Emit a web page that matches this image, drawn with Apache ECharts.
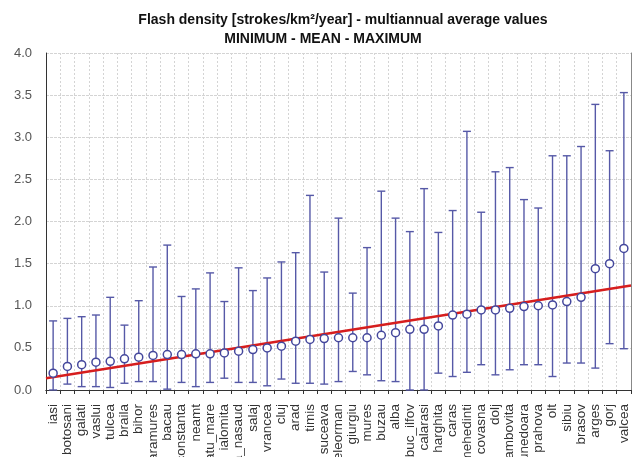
<!DOCTYPE html>
<html><head><meta charset="utf-8">
<script src="https://cdn.jsdelivr.net/npm/echarts@6/dist/echarts.min.js"></script>
<style>html,body{margin:0;padding:0;background:#fff}#c{width:634px;height:457px}</style>
</head><body><div id="c"></div>
<script>
const categories = ['iasi','botosani','galati','vaslui','tulcea','braila','bihor','maramures','bacau','constanta','neamt','satu_mare','ialomita','bistrita_nasaud','salaj','vrancea','cluj','arad','timis','suceava','teleorman','giurgiu','mures','buzau','alba','buc_ilfov','calarasi','harghita','caras','mehedinti','covasna','dolj','dambovita','hunedoara','prahova','olt','sibiu','brasov','arges','gorj','valcea'];
const means = [0.20,0.28,0.30,0.33,0.34,0.37,0.39,0.41,0.42,0.42,0.43,0.43,0.44,0.46,0.48,0.50,0.52,0.58,0.60,0.61,0.62,0.62,0.62,0.65,0.68,0.72,0.72,0.76,0.89,0.90,0.95,0.95,0.97,0.99,1.00,1.01,1.05,1.10,1.44,1.50,1.68];
const maxs = [0.82,0.85,0.87,0.89,1.10,0.77,1.06,1.46,1.72,1.11,1.20,1.39,1.05,1.45,1.18,1.33,1.52,1.63,2.31,1.40,2.04,1.15,1.69,2.36,2.04,1.88,2.39,1.87,2.13,3.07,2.11,2.59,2.64,2.26,2.16,2.78,2.78,2.89,3.39,2.84,3.53];
const mins = [0.00,0.07,0.04,0.04,0.03,0.08,0.10,0.10,0.01,0.09,0.04,0.09,0.14,0.09,0.09,0.05,0.13,0.08,0.08,0.07,0.10,0.22,0.18,0.11,0.10,0.00,0.00,0.20,0.16,0.21,0.30,0.18,0.24,0.30,0.30,0.16,0.32,0.32,0.26,0.55,0.49];
const trendEnds = [0.14, 1.24];
const yTicks = [0, 4, 0.5];

const FONT = 'Arial, "Liberation Sans", sans-serif';
const chart = echarts.init(document.getElementById('c'), null, {renderer: 'canvas'});
const errData = categories.map((c, i) => [i, mins[i], maxs[i]]);
const meanData = categories.map((c, i) => [i, means[i]]);

chart.setOption({
  animation: false,
  backgroundColor: '#fff',
  title: [
    {text: 'Flash density [strokes/km\u00b2/year] - multiannual average values', left: 338, top: 8, textAlign: 'center',
     textStyle: {fontFamily: FONT, fontSize: 14, fontWeight: 'bold', color: '#111'}},
    {text: 'MINIMUM - MEAN - MAXIMUM', left: 318, top: 27, textAlign: 'center',
     textStyle: {fontFamily: FONT, fontSize: 14, fontWeight: 'bold', color: '#111'}}
  ],
  grid: {left: 46, right: 3, top: 53, bottom: 67, containLabel: false, outerBoundsMode: 'none'},
  xAxis: [
    {type: 'category', data: categories, offset: 7, boundaryGap: true,
     axisLine: {show: true, lineStyle: {color: '#333', width: 1}},
     axisTick: {show: true, length: 4, inside: false, alignWithLabel: false, interval: 0, lineStyle: {color: '#333'}},
     axisLabel: {interval: 0, rotate: 90, fontSize: 13.5, fontFamily: FONT, color: '#333', margin: 7, hideOverlap: false},
     splitLine: {show: true, interval: 0, lineStyle: {color: '#d4d4d4', type: [2, 2], width: 1}}},
    {type: 'category', data: categories, position: 'top', boundaryGap: true,
     axisLine: {show: true, lineStyle: {color: '#333', width: 1}},
     axisTick: {show: true, inside: true, length: 4, interval: 0, lineStyle: {color: '#333'}},
     axisLabel: {show: false}, splitLine: {show: false}},
    {type: 'value', min: 0, max: 1, show: false}
  ],
  yAxis: [
    {type: 'value', min: yTicks[0], max: yTicks[1], interval: yTicks[2], offset: 7,
     axisLine: {show: true, lineStyle: {color: '#333'}},
     axisTick: {show: false},
     axisLabel: {formatter: v => v.toFixed(1), fontSize: 13, fontFamily: FONT, color: '#555', margin: 7},
     splitLine: {show: true, lineStyle: {color: '#d4d4d4', type: [3, 1], width: 1}}},
    {type: 'value', min: yTicks[0], max: yTicks[1], interval: yTicks[2], position: 'right',
     axisLine: {show: true, lineStyle: {color: '#888'}}, axisTick: {show: false}, axisLabel: {show: false}, splitLine: {show: false}}
  ],
  series: [
    {type: 'custom', xAxisIndex: 0, yAxisIndex: 0, z: 2, data: errData,
     renderItem: function (params, api) {
       const x = api.value(0);
       const lo = api.coord([x, api.value(1)]);
       const hi = api.coord([x, api.value(2)]);
       const cap = 4;
       const st = {stroke: '#5659a7', lineWidth: 1.4};
       return {type: 'group', children: [
         {type: 'line', shape: {x1: lo[0], y1: lo[1], x2: hi[0], y2: hi[1]}, style: st},
         {type: 'line', shape: {x1: lo[0] - cap, y1: lo[1], x2: lo[0] + cap, y2: lo[1]}, style: st},
         {type: 'line', shape: {x1: hi[0] - cap, y1: hi[1], x2: hi[0] + cap, y2: hi[1]}, style: st}
       ]};
     }},
    {type: 'line', xAxisIndex: 2, yAxisIndex: 0, z: 3, data: [[0, trendEnds[0]], [1, trendEnds[1]]],
     symbol: 'none', lineStyle: {color: '#d61e1e', width: 2.5}},
    {type: 'scatter', xAxisIndex: 0, yAxisIndex: 0, z: 4, data: meanData, symbol: 'circle', symbolSize: 8,
     itemStyle: {color: '#ffffff', borderColor: '#44479c', borderWidth: 1.5, opacity: 1}}
  ]
});
</script>
</body></html>
